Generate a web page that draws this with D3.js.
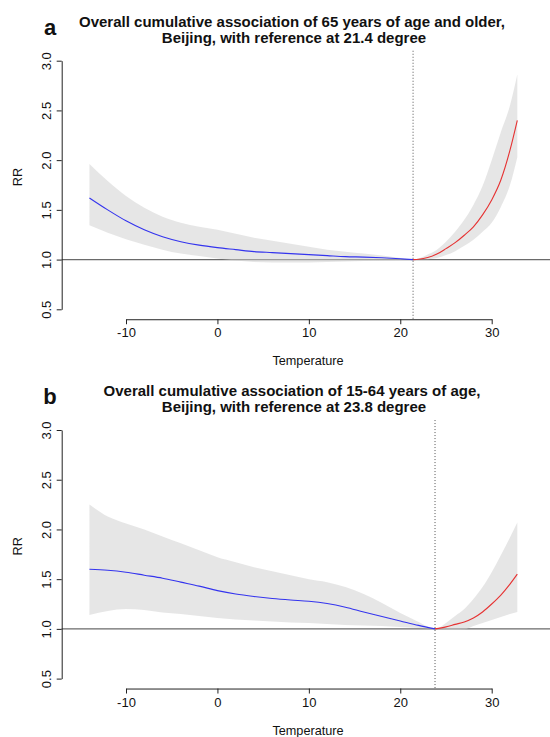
<!DOCTYPE html>
<html>
<head>
<meta charset="UTF-8">
<script src="https://d3js.org/d3.v7.min.js"></script>
<style>
  body { margin: 0; background: #fff; }
  text { font-family: "Liberation Sans", Arial, sans-serif; fill: #111; }
</style>
</head>
<body>
<div id="chart"></div>
<script>
// panel a: 65 years and older
var tempsA = [-14, -12, -10, -8, -6, -4, -2, 0, 2, 4, 6, 8, 10, 12, 14, 16, 18, 20, 21.4,
              22, 23, 24, 25, 26, 27, 28, 29, 30, 31, 32, 32.8]
var rrA   = [1.62, 1.50, 1.39, 1.30, 1.23, 1.18, 1.145, 1.12, 1.10, 1.08, 1.07, 1.06, 1.05, 1.04, 1.03, 1.025, 1.018, 1.008, 1.0,
             1.003, 1.02, 1.055, 1.11, 1.17, 1.245, 1.33, 1.45, 1.60, 1.80, 2.10, 2.40]
var lowA  = [1.345, 1.27, 1.205, 1.15, 1.10, 1.06, 1.035, 1.01, 0.99, 0.975, 0.97, 0.97, 0.97, 0.975, 0.98, 0.985, 0.99, 0.997, 1.0,
             1.0, 1.002, 1.015, 1.045, 1.085, 1.14, 1.20, 1.28, 1.37, 1.53, 1.75, 2.03]
var highA = [1.96, 1.79, 1.64, 1.52, 1.43, 1.37, 1.33, 1.30, 1.26, 1.22, 1.19, 1.16, 1.13, 1.10, 1.08, 1.06, 1.04, 1.015, 1.0,
             1.01, 1.05, 1.10, 1.18, 1.28, 1.40, 1.55, 1.74, 2.00, 2.28, 2.55, 2.86]
var refA = 21.4

// panel b: 15-64 years
var tempsB = [-14, -12, -10, -8, -6, -4, -2, 0, 2, 4, 6, 8, 10, 12, 14, 16, 18, 20, 22, 23.8,
              25, 26, 27, 28, 29, 30, 31, 32, 32.8]
var rrB   = [1.60, 1.59, 1.57, 1.54, 1.51, 1.47, 1.43, 1.385, 1.35, 1.325, 1.305, 1.29, 1.278, 1.255, 1.218, 1.17, 1.125, 1.08, 1.035, 1.0,
             1.02, 1.045, 1.07, 1.11, 1.17, 1.25, 1.34, 1.45, 1.55]
var lowB  = [1.14, 1.18, 1.20, 1.19, 1.165, 1.15, 1.13, 1.11, 1.095, 1.085, 1.075, 1.065, 1.06, 1.05, 1.04, 1.035, 1.03, 1.02, 1.01, 1.0,
             0.995, 0.99, 0.995, 1.03, 1.06, 1.09, 1.12, 1.15, 1.17]
var highB = [2.25, 2.13, 2.06, 2.00, 1.93, 1.86, 1.79, 1.72, 1.67, 1.62, 1.58, 1.54, 1.50, 1.47, 1.42, 1.35, 1.26, 1.16, 1.07, 1.0,
             1.06, 1.13, 1.20, 1.30, 1.42, 1.57, 1.74, 1.92, 2.07]
var refB = 23.8

var xTicks = [-10, 0, 10, 20, 30]
var yTicks = [0.5, 1.0, 1.5, 2.0, 2.5, 3.0]

var width = 550, height = 737

var svg = d3.select("#chart").append("svg")
    .attr("width", width)
    .attr("height", height)

// misma escala x para los dos paneles
var x = d3.scaleLinear().domain([-10, 30]).range([126, 491.7])

function panel(top, letter, title1, title2, temps, rr, low, high, ref) {
    // top = posicion del 3.0 en pixeles
    var y = d3.scaleLinear().domain([0.5, 3.0]).range([top + 248.6, top])
    var g = svg.append("g")
    var yBottom = y(0.4), yTop = y(3.1)

    // linea horizontal RR=1
    g.append("line")
        .attr("x1", 61.7).attr("x2", width)
        .attr("y1", y(1)).attr("y2", y(1))
        .attr("stroke", "#6a6a6a").attr("stroke-width", 1.2)

    var pts = temps.map(function (t, i) { return {t: t, rr: rr[i], lo: low[i], hi: high[i]} })

    var area = d3.area()
        .x(function (d) { return x(d.t) })
        .y0(function (d) { return y(d.lo) })
        .y1(function (d) { return y(d.hi) })
        .curve(d3.curveMonotoneX)

    g.append("path")
        .datum(pts)
        .attr("d", area)
        .attr("fill", "#cdcdcd")
        .attr("fill-opacity", 0.5)

    var line = d3.line()
        .x(function (d) { return x(d.t) })
        .y(function (d) { return y(d.rr) })
        .curve(d3.curveMonotoneX)

    g.append("path")
        .datum(pts.filter(function (d) { return d.t <= ref }))
        .attr("d", line)
        .attr("fill", "none")
        .attr("stroke", "#3434ee")
        .attr("stroke-width", 1.1)

    g.append("path")
        .datum(pts.filter(function (d) { return d.t >= ref }))
        .attr("d", line)
        .attr("fill", "none")
        .attr("stroke", "#e63232")
        .attr("stroke-width", 1.1)

    // linea de referencia (punteada)
    g.append("line")
        .attr("x1", x(ref)).attr("x2", x(ref))
        .attr("y1", yTop).attr("y2", yBottom)
        .attr("stroke", "#555")
        .attr("stroke-width", 1)
        .attr("stroke-dasharray", "1,2")

    // eje x (guion normal como en R, no signo menos)
    var xAxis = d3.axisBottom(x).tickValues(xTicks)
        .tickFormat(function (d) { return String(d) })
        .tickSize(5).tickSizeOuter(0).tickPadding(4)
    var gx = g.append("g")
        .attr("transform", "translate(0," + yBottom + ")")
        .call(xAxis)
    gx.select(".domain").attr("stroke", "#222")
    gx.selectAll(".tick line").attr("stroke", "#222")
    gx.selectAll("text")
        .style("font-size", "13px")
        .style("font-family", "Liberation Sans, Arial, sans-serif")
        .attr("fill", "#111")

    g.append("text")
        .attr("x", 308).attr("y", yBottom + 46)
        .attr("text-anchor", "middle")
        .style("font-size", "12.7px")
        .text("Temperature")

    // eje y
    var yAxis = d3.axisLeft(y).tickValues(yTicks).tickFormat(d3.format(".1f"))
        .tickSize(5).tickSizeOuter(0).tickPadding(6)
    var gy = g.append("g")
        .attr("transform", "translate(61.7,0)")
        .call(yAxis)
    gy.select(".domain").attr("stroke", "#222")
    gy.selectAll(".tick line").attr("stroke", "#222")
    gy.selectAll("text")
        .style("font-size", "13px")
        .style("font-family", "Liberation Sans, Arial, sans-serif")
        .attr("fill", "#111")
        .attr("text-anchor", "middle")
        .attr("dy", null)
        .attr("x", null)
        .attr("transform", "translate(-15,0) rotate(-90)")
        .attr("y", 4.5)

    g.append("text")
        .attr("transform", "translate(22," + y(1.83) + ") rotate(-90)")
        .attr("text-anchor", "middle")
        .style("font-size", "12.7px")
        .text("RR")

    // titulos
    g.append("text")
        .attr("x", 292).attr("y", top - 34)
        .attr("text-anchor", "middle")
        .style("font-size", "15px").style("font-weight", "bold")
        .text(title1)
    g.append("text")
        .attr("x", 294).attr("y", top - 18)
        .attr("text-anchor", "middle")
        .style("font-size", "15px").style("font-weight", "bold")
        .text(title2)

    g.append("text")
        .attr("x", 50).attr("y", top - 26)
        .attr("text-anchor", "middle")
        .style("font-size", "22px").style("font-weight", "bold")
        .text(letter)
}

panel(60.7, "a", "Overall cumulative association of 65 years of age and older,",
      "Beijing, with reference at 21.4 degree", tempsA, rrA, lowA, highA, refA)
panel(430, "b", "Overall cumulative association of 15-64 years of age,",
      "Beijing, with reference at 23.8 degree", tempsB, rrB, lowB, highB, refB)
</script>
</body>
</html>
